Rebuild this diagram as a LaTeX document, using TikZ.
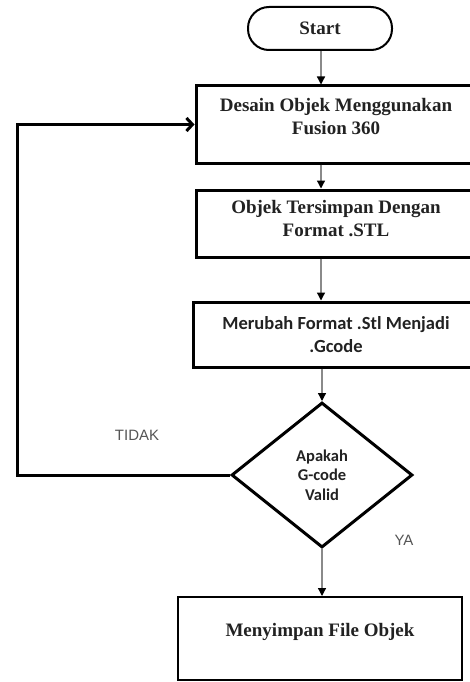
\documentclass[tikz,border=0pt]{standalone}
\usepackage{fontspec}
\setmainfont{Liberation Serif}
\newfontfamily\calibrifont{Carlito}
\newfontfamily\arialfont{Liberation Sans}
\usetikzlibrary{arrows.meta,calc,positioning,shapes.geometric}
\definecolor{inkgray}{HTML}{222222}
\definecolor{labelgray}{HTML}{555555}
\definecolor{flowgray}{HTML}{8A8A8A}

\tikzset{
  proc/.style={draw=black,line width=3pt,rectangle,inner sep=0pt},
  proctext/.style={align=center,text=inkgray,font=\fontsize{19}{23}\selectfont\bfseries},
  calitext/.style={align=center,text=inkgray,font=\calibrifont\fontsize{18.5}{23}\selectfont\bfseries},
  flow/.style={draw=flowgray,line width=1.3pt,-{Triangle[length=8pt,width=8pt,color=black]}},
  back/.style={draw=black,line width=3pt,line join=miter,-{Straight Barb[length=6pt,width=13pt]}},
  lbl/.style={text=labelgray,font=\arialfont\fontsize{15}{18}\selectfont}
}

\begin{document}
\begin{tikzpicture}[x=1pt,y=-1pt]
\useasboundingbox (0,0) rectangle (470,682);
\clip (0,0) rectangle (470,682);
\fill[white] (0,0) rectangle (470,682);

% terminal
\node[draw=black,line width=2pt,rounded corners=21pt,minimum width=144pt,minimum height=43pt,
      text=inkgray,font=\fontsize{19}{23}\selectfont\bfseries] (start) at (320,28.5) {Start};

% process boxes
\node[proc,minimum width=280pt,minimum height=77pt] (b1) at (336,124.5) {};
\node[proctext] (b1t) at ($(b1.center)+(0,-8)$) {Desain Objek Menggunakan\\Fusion 360};
\node[proc,minimum width=280pt,minimum height=67pt] (b2) at (336,223.5) {};
\node[proctext] (b2t) at ($(b2.center)+(0,-4.5)$) {Objek Tersimpan Dengan\\Format .STL};
\node[proc,minimum width=286pt,minimum height=65pt,calitext] (b3) at (336,334.5) {Merubah Format .Stl Menjadi\\.Gcode};

% decision
\node[diamond,draw=black,line width=3pt,inner sep=0pt,aspect=1.25,minimum width=181pt,minimum height=145pt,
      calitext,font=\calibrifont\fontsize{16.5}{19.5}\selectfont\bfseries] (dia) at (322,475) {Apakah\\G-code\\Valid};

\node[draw=black,line width=2pt,minimum width=284pt,minimum height=83pt] (b4) at (320,638.5) {};
\node[proctext] (b4t) at ($(b4.center)+(0,-6.5)$) {Menyimpan File Objek};

% labels
\node[lbl] (tidak) at (137,435) {TIDAK};
\node[lbl] (ya) at (404,540) {YA};

% connectors
\draw[flow] (start.south -| 321,0) -- (b1.north -| 321,0);
\draw[flow] (b1.south -| 321,0) -- (b2.north -| 321,0);
\draw[flow] (b2.south -| 321,0) -- (b3.north -| 321,0);
\draw[flow] (b3.south -| dia.north) -- (dia.north);
\draw[flow] (dia.south) -- (b4.north -| dia.south);

\coordinate (lp) at (17,124.5);
\draw[back] (dia.west) -| (lp) -- (b1.west);
\end{tikzpicture}
\end{document}
